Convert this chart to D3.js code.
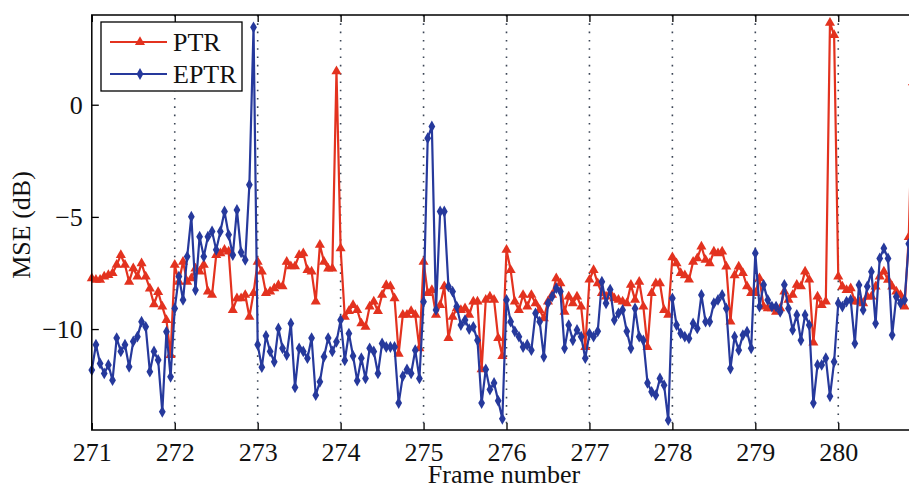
<!DOCTYPE html>
<html>
<head>
<meta charset="utf-8">
<script src="https://cdn.jsdelivr.net/npm/d3@7"></script>
<style>
  body { margin: 0; background: #fff; }
  svg { display: block; }
  svg text { font-family: "Liberation Serif", "Times New Roman", Times, "DejaVu Serif", serif !important; }
</style>
</head>
<body>
<div id="chart"></div>
<script>
// frame ticks and series, 20 samples per frame (271.00, 271.05, ...)
let frameTicks = [271, 272, 273, 274, 275, 276, 277, 278, 279, 280]
let frameLines = [272, 273, 274, 275, 276, 277, 278, 279, 280, 281]
let yTicks = [-10, -5, 0]
let seriesNames = ['PTR', 'EPTR']
let samplesPerFrame = 20
let firstFrame = 271

let ptrMSE = [
  // 271
  -7.74, -7.81, -7.81, -7.66, -7.59, -7.51, -7.14, -6.7, -7.14, -7.89, -7.29, -7.66, -7.07, -7.66, -8.2, -8.9, -8.35, -9.0, -9.6, -11.16,
  // 272
  -7.14, -7.9, -7.0, -7.9, -7.74, -7.3, -7.44, -7.14, -8.33, -8.48, -6.7, -6.62, -6.47, -6.55, -9.15, -8.63, -8.63, -8.48, -9.45, -8.4,
  // 273
  -7.0, -7.44, -8.4, -8.33, -8.18, -8.04, -8.1, -7.0, -7.2, -7.2, -6.7, -6.62, -7.37, -7.44, -8.78, -6.25, -7.0, -7.3, -7.3, 1.49,
  // 274
  -6.4, -9.45, -9.2, -8.93, -9.15, -9.75, -9.9, -9.0, -8.78, -9.2, -8.48, -8.04, -8.1, -8.63, -11.1, -9.37, -9.37, -9.2, -9.37, -10.86,
  // 275
  -7.0, -8.4, -8.26, -9.37, -8.93, -8.1, -10.4, -9.45, -9.08, -9.15, -9.08, -9.37, -8.78, -8.78, -11.8, -8.7, -8.55, -8.7, -10.4, -11.2,
  // 276
  -6.47, -7.37, -8.78, -9.15, -8.48, -9.0, -8.48, -8.85, -9.15, -9.52, -8.78, -8.48, -7.74, -7.96, -9.23, -8.55, -8.85, -8.55, -9.0, -10.8,
  // 277
  -7.8, -7.37, -7.96, -8.4, -8.55, -8.4, -8.63, -8.7, -8.78, -8.85, -8.03, -8.7, -7.89, -9.0, -10.8, -8.4, -7.96, -7.96, -9.15, -9.37,
  // 278
  -6.8, -7.07, -7.5, -7.6, -7.8, -7.0, -6.85, -6.32, -6.92, -7.07, -6.55, -6.62, -6.55, -7.22, -9.67, -7.6, -7.22, -7.5, -8.1, -8.4,
  // 279
  -8.4, -7.74, -9.0, -9.08, -9.08, -9.23, -9.08, -8.33, -8.7, -8.48, -8.03, -8.1, -7.44, -7.8, -10.6, -8.55, -8.93, -8.78, 3.65, 3.1,
  // 280
  -7.66, -8.11, -8.26, -8.18, -8.78, -8.78, -8.85, -8.55, -8.55, -8.11, -7.66, -7.44, -7.81, -8.11, -8.33, -8.48, -9.0, -5.9, 1.0
]

let eptrMSE = [
  // 271
  -11.83, -10.7, -11.53, -11.98, -11.6, -12.28, -10.4, -11.0, -10.7, -11.68, -10.55, -10.34, -9.67, -9.9, -11.9, -11.0, -11.38, -13.69, -10.12, -12.13,
  // 272
  -9.08, -7.66, -8.7, -6.77, -4.99, -8.26, -5.88, -6.77, -5.88, -5.65, -6.47, -5.65, -4.76, -5.8, -6.7, -4.69, -6.58, -6.92, -3.57, 3.45,
  // 273
  -10.7, -11.7, -10.3, -11.0, -11.46, -9.97, -10.86, -11.16, -9.75, -12.6, -10.86, -11.0, -11.3, -10.4, -12.95, -12.35, -11.23, -10.4, -11.0, -10.57,
  // 274
  -9.6, -11.4, -10.2, -11.2, -12.3, -11.3, -12.2, -10.86, -11.0, -11.98, -10.64, -10.8, -10.8, -10.8, -13.3, -12.1, -11.8, -11.98, -10.94, -12.2,
  // 275
  -8.78, -1.49, -0.97, -9.15, -4.76, -4.76, -8.1, -8.33, -9.0, -9.82, -9.6, -10.0, -9.9, -10.5, -13.3, -11.8, -12.7, -12.4, -13.2, -14.0,
  // 276
  -8.7, -9.67, -10.1, -10.34, -10.8, -10.7, -10.94, -9.3, -9.67, -11.24, -8.85, -8.55, -8.18, -8.33, -10.86, -9.82, -10.5, -10.04, -10.34, -11.3,
  // 277
  -10.2, -10.34, -10.1, -7.89, -8.85, -8.24, -9.6, -9.3, -9.15, -10.1, -10.86, -9.08, -10.34, -10.5, -12.4, -12.8, -12.95, -12.2, -12.5, -14.06,
  // 278
  -8.63, -9.82, -10.19, -10.34, -10.42, -9.75, -9.97, -8.48, -9.67, -9.67, -8.85, -8.7, -8.48, -9.08, -11.76, -10.34, -10.94, -10.27, -10.12, -10.86,
  // 279
  -6.62, -9.0, -8.03, -8.7, -9.0, -9.0, -9.23, -8.03, -9.08, -10.04, -9.37, -10.5, -9.37, -9.82, -13.3, -11.6, -11.6, -11.3, -13.0, -11.46,
  // 280
  -8.85, -9.0, -8.78, -8.7, -10.64, -8.04, -9.15, -8.1, -7.44, -9.75, -6.85, -6.4, -6.85, -10.27, -8.56, -8.85, -8.7, -6.2, -5.5
]

let colors = { PTR: '#e3321f', EPTR: '#26399c' }
let fontSize = 26

let width = 909, height = 487
let svg = d3.select('#chart').append('svg')
  .attr('width', width)
  .attr('height', height)

let x = d3.scaleLinear().domain([271, 281]).range([91.8, 921.2])
let y = d3.scaleLinear().domain([-14.5, 4]).range([430, 15])

function toPoints(vals){
  return vals.map(function(v, i){
    return { f: firstFrame + i / samplesPerFrame, v: v }
  })
}
let series = [
  { name: 'PTR', pts: toPoints(ptrMSE) },
  { name: 'EPTR', pts: toPoints(eptrMSE) }
]

// dotted frame boundaries
svg.append('g')
  .selectAll('line')
  .data(frameLines)
  .enter()
  .append('line')
  .attr('x1', d => x(d)).attr('x2', d => x(d))
  .attr('y1', y.range()[1]).attr('y2', y.range()[0])
  .attr('stroke', '#3c4656')
  .attr('stroke-width', 1.6)
  .attr('stroke-dasharray', '1.6,6.7')

let line = d3.line().x(d => x(d.f)).y(d => y(d.v))
let symTri = d3.symbol().type(d3.symbolTriangle).size(44)
let symDia = d3.symbol().type(d3.symbolDiamond).size(40)

series.forEach(function(s){
  let g = svg.append('g')
  g.append('path')
    .datum(s.pts)
    .attr('fill', 'none')
    .attr('stroke', colors[s.name])
    .attr('stroke-width', 2.2)
    .attr('stroke-linejoin', 'round')
    .attr('d', line)
  g.selectAll('path.m')
    .data(s.pts)
    .enter()
    .append('path')
    .attr('class', 'm')
    .attr('transform', d => 'translate(' + x(d.f) + ',' + y(d.v) + ')')
    .attr('d', s.name == 'PTR' ? symTri() : symDia())
    .attr('fill', colors[s.name])
})

// axes box
svg.append('rect')
  .attr('x', x(271)).attr('y', y(4))
  .attr('width', x(281) - x(271)).attr('height', y(-14.5) - y(4))
  .attr('fill', 'none')
  .attr('stroke', '#000')
  .attr('stroke-width', 1.5)

let xAxis = svg.append('g')
  .attr('transform', 'translate(0,' + y(-14.5) + ')')
  .call(d3.axisBottom(x).tickValues(frameTicks).tickFormat(d3.format('d')).tickSizeInner(-7).tickSizeOuter(0).tickPadding(13))
let xTop = svg.append('g')
  .attr('transform', 'translate(0,' + y(4) + ')')
  .call(d3.axisTop(x).tickValues(frameTicks).tickFormat('').tickSizeInner(-7).tickSizeOuter(0))
let yAxis = svg.append('g')
  .attr('transform', 'translate(' + x(271) + ',0)')
  .call(d3.axisLeft(y).tickValues(yTicks).tickSizeInner(-7).tickSizeOuter(0).tickPadding(9))

;[xAxis, xTop, yAxis].forEach(function(a){
  a.select('.domain').remove()
  a.selectAll('line').attr('stroke', '#000').attr('stroke-width', 1.3)
  a.selectAll('text')
    .attr('font-size', fontSize)
    .attr('fill', '#111')
})

svg.append('text')
  .attr('x', 504)
  .attr('y', 483)
  .attr('text-anchor', 'middle')
  .attr('font-size', fontSize)
  .attr('fill', '#111')
  .text('Frame number')

svg.append('text')
  .attr('transform', 'translate(30,' + 225 + ') rotate(-90)')
  .attr('text-anchor', 'middle')
  .attr('font-size', fontSize)
  .attr('fill', '#111')
  .text('MSE (dB)')

// legend
let legend = svg.append('g').attr('transform', 'translate(101,22)')
legend.append('rect')
  .attr('width', 141).attr('height', 69)
  .attr('fill', '#fff')
  .attr('stroke', '#000')
  .attr('stroke-width', 1.3)
let items = legend.selectAll('g.item')
  .data(seriesNames)
  .enter()
  .append('g')
  .attr('class', 'item')
  .attr('transform', (d, i) => 'translate(0,' + (20 + i * 32) + ')')
items.append('line')
  .attr('x1', 9).attr('x2', 66)
  .attr('stroke', d => colors[d])
  .attr('stroke-width', 2.2)
items.append('path')
  .attr('transform', 'translate(39,0)')
  .attr('d', d => d == 'PTR' ? symTri() : symDia())
  .attr('fill', d => colors[d])
items.append('text')
  .attr('x', 72)
  .attr('y', 9)
  .attr('font-size', fontSize)
  .attr('fill', '#111')
  .text(d => d)
</script>
</body>
</html>
